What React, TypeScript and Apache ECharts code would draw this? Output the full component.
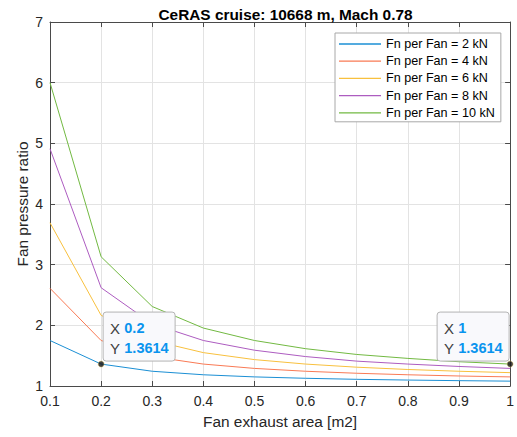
import React, { useEffect, useRef } from "react";
import * as echarts from "echarts";

const areas = [0.1, 0.2, 0.3, 0.4, 0.5, 0.6, 0.7, 0.8, 0.9, 1.0];
const seriesNames = [
  "Fn per Fan = 2 kN",
  "Fn per Fan = 4 kN",
  "Fn per Fan = 6 kN",
  "Fn per Fan = 8 kN",
  "Fn per Fan = 10 kN",
];
const fn2 = [1.75, 1.3614, 1.243, 1.185, 1.15, 1.127, 1.11, 1.098, 1.088, 1.08];
const fn4 = [2.61, 1.75, 1.485, 1.3614, 1.29, 1.243, 1.21, 1.185, 1.165, 1.15];
const fn6 = [3.69, 2.165, 1.75, 1.55, 1.435, 1.3614, 1.31, 1.272, 1.243, 1.22];
const fn8 = [4.91, 2.62, 2.025, 1.75, 1.59, 1.485, 1.41, 1.3614, 1.322, 1.29];
const fn10 = [6.0, 3.13, 2.31, 1.955, 1.75, 1.615, 1.52, 1.455, 1.4, 1.3614];
const seriesValues = [fn2, fn4, fn6, fn8, fn10];
const colors = ["#1b8fd4", "#f97a55", "#f8c03e", "#ad5cc0", "#72b942"];

const tipX = [0.2, 1];
const tipY = [1.3614, 1.3614];
const tipXLabels = ["0.2", "1"];
const tipYLabels = ["1.3614", "1.3614"];

const titleText = "CeRAS cruise: 10668 m, Mach 0.78";
const xName = "Fan exhaust area [m2]";
const yName = "Fan pressure ratio";

const FONT = "'Liberation Sans', Arial, Helvetica, sans-serif";

export default function App() {
  const ref = useRef<HTMLDivElement>(null);
  useEffect(() => {
    if (!ref.current) return;
    const chart = echarts.init(ref.current, undefined, { renderer: "svg" });
    const axisColor = "#4a4a4a";
    const fmtX = (v: number) => {
      const r = Math.round(v * 10) / 10;
      return r === 1 ? "1" : r.toFixed(1);
    };
    const baseX = {
      type: "value" as const,
      min: 0.1,
      max: 1,
      interval: 0.1,
    };
    const baseY = {
      type: "value" as const,
      min: 1,
      max: 7,
      interval: 1,
    };
    const option: any = {
      animation: false,
      textStyle: { fontFamily: FONT },
      title: {
        text: titleText,
        left: 280.5,
        top: 2,
        textAlign: "center",
        textStyle: {
          fontFamily: FONT,
          fontSize: 15.4,
          fontWeight: "bold",
          color: "#000",
        },
      },
      grid: { left: 50, right: 6, top: 22, bottom: 51, containLabel: false },
      legend: {
        data: seriesNames.map((n, i) => ({
          name: n,
          icon: "rect",
          itemStyle: { color: colors[i], opacity: 1 },
        })),
        orient: "vertical",
        left: 335,
        top: 33,
        padding: [4, 6, 2, 4],
        itemWidth: 42,
        itemHeight: 1.3,
        itemGap: 3.2,
        borderColor: "#a8a8a8",
        borderWidth: 1,
        backgroundColor: "#fff",
        textStyle: { fontFamily: FONT, fontSize: 12.6, color: "#000", lineHeight: 14 },
      },
      xAxis: [
        {
          ...baseX,
          name: xName,
          nameLocation: "middle",
          nameGap: 28,
          nameMoveOverlap: false,
          nameTextStyle: { fontFamily: FONT, fontSize: 15.4, color: "#262626" },
          axisLine: { show: true, lineStyle: { color: axisColor, width: 1 } },
          axisTick: { show: true, inside: true, length: 5, lineStyle: { color: axisColor } },
          axisLabel: {
            fontFamily: FONT,
            fontSize: 14,
            color: "#262626",
            margin: 8,
            formatter: fmtX,
          },
          splitLine: { show: true, lineStyle: { color: "#e3e3e3", width: 1 } },
        },
        {
          ...baseX,
          position: "top",
          axisLine: { show: true, lineStyle: { color: axisColor, width: 1 } },
          axisTick: { show: true, inside: true, length: 5, lineStyle: { color: axisColor } },
          axisLabel: { show: false },
          splitLine: { show: false },
        },
      ],
      yAxis: [
        {
          ...baseY,
          name: yName,
          nameLocation: "middle",
          nameGap: 20,
          nameMoveOverlap: false,
          nameTextStyle: { fontFamily: FONT, fontSize: 15.4, color: "#262626" },
          axisLine: { show: true, lineStyle: { color: axisColor, width: 1 } },
          axisTick: { show: true, inside: true, length: 5, lineStyle: { color: axisColor } },
          axisLabel: { fontFamily: FONT, fontSize: 14, color: "#262626", margin: 7 },
          splitLine: { show: true, lineStyle: { color: "#e3e3e3", width: 1 } },
        },
        {
          ...baseY,
          position: "right",
          axisLine: { show: true, lineStyle: { color: axisColor, width: 1 } },
          axisTick: { show: true, inside: true, length: 5, lineStyle: { color: axisColor } },
          axisLabel: { show: false },
          splitLine: { show: false },
        },
      ],
      series: [
        ...seriesNames.map((name, i) => ({
          name,
          type: "line",
          xAxisIndex: 0,
          yAxisIndex: 0,
          data: areas.map((a, j) => [a, seriesValues[i][j]]),
          symbol: "none",
          showSymbol: false,
          lineStyle: { color: colors[i], width: 1 },
          itemStyle: { color: colors[i] },
          z: 2,
        })),
        {
          name: "datatips",
          type: "scatter",
          xAxisIndex: 0,
          yAxisIndex: 0,
          data: tipX.map((x, i) => [x, tipY[i]]),
          symbol: "circle",
          symbolSize: 6,
          itemStyle: { color: "#111", borderColor: "#d8c060", borderWidth: 0.6 },
          z: 5,
          silent: true,
        },
      ],
    };
    chart.setOption(option);

    const rich = {
      l: { fill: "#404040", fontSize: 15, fontFamily: FONT },
      v: { fill: "#0a94ee", fontSize: 14.5, fontWeight: "bold", fontFamily: FONT },
    };
    const graphics: any[] = [];
    tipX.forEach((x, i) => {
      const p = chart.convertToPixel({ xAxisIndex: 0, yAxisIndex: 0 }, [x, tipY[i]]) as number[];
      const w = 72;
      const h = 49;
      const left = i === 0 ? p[0] + 2 : p[0] - 73;
      const top = p[1] - 52;
      graphics.push({
        type: "rect",
        shape: { x: left, y: top, width: w, height: h, r: 3 },
        style: { fill: "#f9f9fc", stroke: "#b4b4b4", lineWidth: 1 },
        z: 10,
      });
      graphics.push({
        type: "text",
        x: left + 7,
        y: top + 16,
        style: {
          text: "{l|X} {v|" + tipXLabels[i] + "}",
          rich,
          verticalAlign: "middle",
          fontFamily: FONT,
          fontSize: 15,
        },
        z: 11,
      });
      graphics.push({
        type: "text",
        x: left + 7,
        y: top + 36,
        style: {
          text: "{l|Y} {v|" + tipYLabels[i] + "}",
          rich,
          verticalAlign: "middle",
          fontFamily: FONT,
          fontSize: 15,
        },
        z: 11,
      });
    });
    chart.setOption({ graphic: graphics });

    return () => chart.dispose();
  }, []);
  return <div ref={ref} style={{ width: 517, height: 437, position: "absolute", left: 0, top: 0 }} />;
}
